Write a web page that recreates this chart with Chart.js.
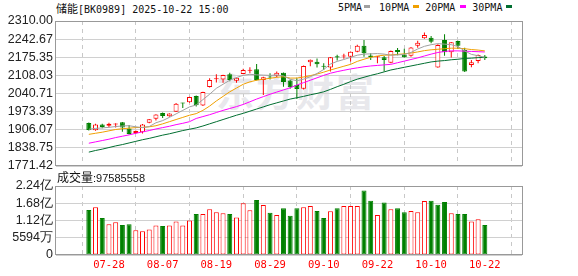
<!DOCTYPE html>
<html>
<head>
<meta charset="utf-8">
<script src="https://cdn.jsdelivr.net/npm/chart.js@4.4.0/dist/chart.umd.min.js"></script>
<style>
  body { margin: 0; background: #fff; }
  #wrap { position: relative; width: 578px; height: 276px; overflow: hidden; }
  canvas { position: absolute; left: 0; }
  #kline { top: 0; }
  #vol { top: 170px; }
  .txt { position: absolute; white-space: nowrap; color: #111; }
  .mono { font-family: "DejaVu Sans Mono", monospace; font-size: 10px; }
  .cjk { font-family: "Noto Sans CJK SC", sans-serif; font-size: 11px; }
  #title { left: 56px; top: 1px; line-height: 14px; }
  #legend { left: 338px; top: 1px; line-height: 14px; }
  #legend span.sw { display: inline-block; width: 6px; height: 3px; vertical-align: 3px; margin-left: 2px; }
  #volTitle { left: 57px; top: 170px; line-height: 14px; }
  #mark { position: absolute; left: 216px; top: 70px; font-family: "Noto Sans CJK SC", sans-serif;
          font-weight: bold; font-size: 38px; letter-spacing: 2px; color: #e8e8ec; line-height: 40px; }
</style>
</head>
<body>
<div id="wrap">
  <div id="mark">东方财富</div>
  <div id="title" class="txt"><span class="cjk">储能</span><span class="mono">[BK0989] 2025-10-22 15:00</span></div>
  <div id="legend" class="txt mono">
    <span>5PMA</span><span class="sw" style="background:#a0a0a0;margin-right:9px"></span><span>10PMA</span><span class="sw" style="background:#f0a000;margin-right:6px;margin-left:4px"></span><span>20PMA</span><span class="sw" style="background:#ff00ff;margin-right:6px;margin-left:5px"></span><span>30PMA</span><span class="sw" style="background:#006e30;margin-left:4px"></span>
  </div>
  <canvas id="kline" width="578" height="180"></canvas>
  <canvas id="vol" width="578" height="106"></canvas>
  <div id="volTitle" class="txt"><span class="cjk" style="font-size:12px">成交量</span><span style="font-family:'Liberation Sans',sans-serif;font-size:11px">:97585558</span></div>
</div>
<script>
const dates = ["07-23","07-24","07-25","07-28","07-29","07-30","07-31","08-01","08-04","08-05",
  "08-06","08-07","08-08","08-11","08-12","08-13","08-14","08-15","08-18","08-19",
  "08-20","08-21","08-22","08-25","08-26","08-27","08-28","08-29","09-01","09-02",
  "09-03","09-04","09-05","09-08","09-09","09-10","09-11","09-12","09-15","09-16",
  "09-17","09-18","09-19","09-22","09-23","09-24","09-25","09-26","09-29","09-30",
  "10-09","10-10","10-13","10-14","10-15","10-16","10-17","10-20","10-21","10-22"];
const labelIndex = [3, 11, 19, 27, 35, 43, 51, 59];

const open = [1931,1904,1926,1921,1926,1934,1911,1894,1897,1932,
  1947,1968,1956,1973,2006,2008,2031,1996,2065,2094,
  2093,2112,2088,2113,2125,2131,2091,2104,2107,2118,
  2089,2072,2058,2157,2159,2143,2137,2179,2178,2177,
  2196,2218,2182,2175,2175,2155,2202,2186,2181,2218,
  2246,2248,2137,2239,2194,2236,2202,2147,2161,2178];
const high = [1933,1928,1928,1932,1930,1935,1924,1903,1927,1946,
  1964,1970,1967,2005,2006,2029,2033,2047,2097,2112,
  2110,2118,2100,2133,2138,2150,2103,2116,2122,2119,
  2093,2097,2145,2167,2171,2153,2176,2185,2188,2197,
  2222,2239,2190,2180,2180,2200,2210,2207,2213,2237,
  2267,2254,2224,2261,2232,2237,2211,2165,2186,2184];
const low = [1903,1902,1912,1915,1914,1899,1888,1891,1892,1930,
  1940,1950,1954,1972,1987,2006,1992,1994,2063,2082,
  2081,2086,2081,2112,2116,2089,2035,2093,2101,2066,
  2058,2020,2056,2142,2137,2128,2122,2163,2170,2160,
  2194,2177,2165,2153,2122,2153,2183,2174,2177,2211,
  2244,2227,2136,2181,2174,2206,2121,2138,2153,2165];
const close = [1905,1926,1916,1928,1929,1914,1890,1901,1926,1945,
  1963,1957,1966,2003,2004,2028,1997,2046,2091,2097,
  2109,2091,2099,2128,2129,2091,2101,2100,2118,2083,
  2064,2057,2143,2166,2149,2140,2175,2174,2182,2196,
  2218,2190,2175,2178,2165,2199,2195,2175,2212,2229,
  2258,2233,2221,2194,2231,2218,2122,2157,2184,2172];

const ma5 = [1908,1911,1913,1915,1918,1920,1921,1917,1914,1918,
  1932,1940,1952,1965,1978,1991,1998,2018,2038,2060,
  2075,2090,2100,2108,2112,2110,2109,2108,2109,2106,
  2094,2088,2094,2103,2115,2130,2150,2160,2167,2175,
  2183,2187,2188,2189,2187,2183,2184,2186,2193,2206,
  2216,2222,2226,2224,2222,2215,2199,2186,2181,2175];
const ma10 = [1889,1893,1897,1902,1907,1910,1912,1914,1915,1917,
  1921,1928,1936,1944,1952,1960,1966,1978,1994,2013,
  2030,2047,2061,2075,2084,2090,2094,2097,2101,2103,
  2098,2098,2102,2107,2113,2120,2128,2135,2142,2149,
  2160,2168,2175,2180,2183,2184,2186,2188,2191,2195,
  2200,2203,2205,2207,2209,2209,2207,2204,2202,2199];
const ma20 = [1856,1861,1866,1871,1877,1882,1887,1893,1898,1903,
  1909,1914,1919,1925,1930,1936,1948,1955,1962,1970,
  1978,1985,1992,2000,2010,2020,2029,2038,2046,2054,
  2062,2072,2081,2090,2099,2108,2116,2122,2127,2132,
  2136,2140,2143,2145,2147,2149,2155,2161,2167,2173,
  2180,2187,2193,2197,2199,2199,2198,2197,2196,2195];
const ma30 = [1823,1829,1834,1840,1846,1851,1857,1863,1869,1874,
  1880,1886,1891,1897,1903,1908,1913,1920,1928,1936,
  1944,1952,1960,1967,1975,1983,1991,1999,2006,2013,
  2020,2025,2030,2036,2041,2047,2056,2066,2075,2085,
  2094,2101,2108,2114,2121,2128,2133,2138,2143,2148,
  2153,2158,2161,2163,2166,2168,2171,2172,2174,2175];

// volume in 亿
const volume = [1.46,1.55,1.20,1.00,1.06,0.97,1.00,0.80,0.77,0.83,
  0.96,0.94,0.96,1.09,0.96,1.12,1.33,1.33,1.48,1.39,
  1.35,1.33,1.22,1.68,1.45,1.78,1.62,1.37,1.30,1.52,
  1.27,1.52,1.55,1.59,1.43,1.20,1.42,1.52,1.59,1.59,
  1.59,2.09,1.76,1.30,1.70,1.48,1.52,1.39,1.43,1.39,
  1.75,1.76,1.63,1.72,1.35,1.33,1.33,1.09,1.16,0.976];

const priceTicks = [1771.42, 1838.75, 1906.07, 1973.39, 2040.71, 2108.03, 2175.35, 2242.67, 2310.00];
const volTicks = [0, 0.5594, 1.1188, 1.6782, 2.2376];
const volTickLabels = ["0", "5594万", "1.12亿", "1.68亿", "2.24亿"];

const RED = "#ff0000";
const GREEN = "#008000";
const GRID = "#d0d0d0";
const FRAME = "#999999";
const tickFont = { family: "Liberation Sans", size: 12.5 };

const up = close.map((c, i) => c >= open[i]);
const volUp = close.map((c, i) => i == 0 ? c >= open[0] : c >= close[i - 1]);

const frame = {
  id: "frame",
  afterDraw(chart) {
    const { ctx, chartArea: a } = chart;
    ctx.save();
    ctx.strokeStyle = FRAME;
    ctx.lineWidth = 1;
    ctx.strokeRect(a.left - 0.5, a.top + 0.5, a.right - a.left + 1, a.bottom - a.top - 1);
    ctx.restore();
  }
};

function xScale(showLabels) {
  return {
    type: "linear",
    min: -0.55,
    max: 60.2,
    afterBuildTicks: s => { s.ticks = labelIndex.map(v => ({ value: v })); },
    afterFit: s => { s.height = showLabels ? 21 : 0; },
    ticks: {
      display: showLabels,
      callback: v => dates[v],
      color: RED,
      font: { family: "DejaVu Sans Mono", size: 10.5 },
      padding: 4,
      maxRotation: 0,
      autoSkip: false
    },
    grid: { color: "#c8c8c8", drawTicks: false },
    border: { display: false, dash: [4, 4] }
  };
}

const toPts = arr => arr.map((v, i) => ({ x: i, y: v }));

const barBase = {
  grouped: false,
  borderSkipped: false,
  inflateAmount: 0
};

new Chart("kline", {
  type: "bar",
  data: {
    datasets: [
      { type: "line", label: "5PMA", data: toPts(ma5), borderColor: "#a0a0a0", borderWidth: 1, pointRadius: 0, order: 0 },
      { type: "line", label: "10PMA", data: toPts(ma10), borderColor: "#f0a000", borderWidth: 1, pointRadius: 0, order: 0 },
      { type: "line", label: "20PMA", data: toPts(ma20), borderColor: "#ff00ff", borderWidth: 1, pointRadius: 0, order: 0 },
      { type: "line", label: "30PMA", data: toPts(ma30), borderColor: "#006e30", borderWidth: 1, pointRadius: 0, order: 0 },
      {
        ...barBase,
        label: "body",
        data: open.map((o, i) => ({ x: i, y: [o, close[i]] })),
        backgroundColor: up.map(u => u ? "#ffffff" : GREEN),
        borderColor: up.map(u => u ? RED : GREEN),
        borderWidth: 1,
        barThickness: 5,
        minBarLength: 1,
        order: 1
      },
      {
        ...barBase,
        label: "wick",
        data: low.map((l, i) => ({ x: i, y: [l, high[i]] })),
        backgroundColor: up.map(u => u ? RED : GREEN),
        borderWidth: 0,
        barThickness: 1,
        order: 2
      }
    ]
  },
  options: {
    responsive: false,
    animation: false,
    devicePixelRatio: 1,
    layout: { padding: { left: 0, right: 56, top: 21, bottom: 14 } },
    plugins: { legend: { display: false }, tooltip: { enabled: false } },
    scales: {
      x: xScale(false),
      y: {
        min: 1771.42,
        max: 2310,
        afterBuildTicks: s => { s.ticks = priceTicks.map(v => ({ value: v })); },
        afterFit: s => { s.width = 56; },
        ticks: { callback: v => v.toFixed(2), font: tickFont, color: "#222", padding: 3, autoSkip: false },
        grid: { color: GRID, drawTicks: false },
        border: { display: false }
      }
    }
  },
  plugins: [frame]
});

new Chart("vol", {
  type: "bar",
  data: {
    datasets: [{
      ...barBase,
      label: "成交量",
      data: toPts(volume),
      backgroundColor: volUp.map(u => u ? "#ffffff" : GREEN),
      borderColor: volUp.map(u => u ? RED : GREEN),
      borderWidth: 1,
      barThickness: 5
    }]
  },
  options: {
    responsive: false,
    animation: false,
    devicePixelRatio: 1,
    layout: { padding: { left: 0, right: 56, top: 16, bottom: 0 } },
    plugins: { legend: { display: false }, tooltip: { enabled: false } },
    scales: {
      x: xScale(true),
      y: {
        min: 0,
        max: 2.2376,
        afterBuildTicks: s => { s.ticks = volTicks.map(v => ({ value: v })); },
        afterFit: s => { s.width = 56; },
        ticks: { callback: (v, i) => volTickLabels[i], font: tickFont, color: "#222", padding: 3, autoSkip: false },
        grid: { color: GRID, drawTicks: false },
        border: { display: false }
      }
    }
  },
  plugins: [frame]
});
</script>
</body>
</html>
